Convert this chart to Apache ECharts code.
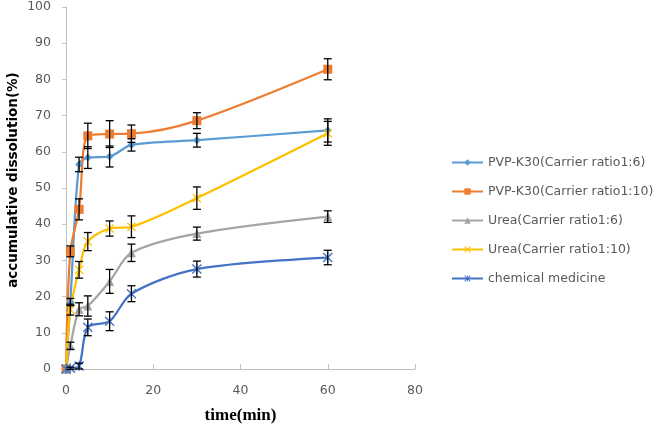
<!DOCTYPE html>
<html>
<head>
<meta charset="utf-8">
<script src="https://cdn.jsdelivr.net/npm/echarts@6/dist/echarts.min.js"></script>
<style>html,body{margin:0;padding:0;background:#fff;}#c{width:658px;height:430px;}</style>
</head>
<body>
<div id="c"></div>
<script>
const times = [0, 1, 3, 5, 10, 15, 30, 60];
const seriesNames = ['PVP-K30(Carrier ratio1:6)', 'PVP-K30(Carrier ratio1:10)', 'Urea(Carrier ratio1:6)', 'Urea(Carrier ratio1:10)', 'chemical medicine'];
const pvp16 = [0, 18.5, 56.5, 58.4, 58.7, 61.9, 63.2, 65.9];
const pvp16Err = [0, 1.0, 2.0, 3.0, 2.9, 1.7, 1.9, 3.2];
const pvp110 = [0, 32.5, 44.1, 64.4, 64.9, 65.0, 68.6, 82.8];
const pvp110Err = [0, 1.5, 2.9, 3.5, 3.7, 2.4, 2.2, 2.9];
const urea16 = [0, 6.4, 16.5, 17.4, 24.2, 32.1, 37.4, 42.1];
const urea16Err = [0, 1.0, 1.8, 2.8, 3.3, 2.4, 1.8, 1.6];
const urea110 = [0, 16.4, 27.4, 35.2, 38.8, 39.3, 47.2, 65.1];
const urea110Err = [0, 1.5, 2.3, 2.5, 2.1, 3.0, 3.1, 3.3];
const chem = [0, 0.2, 0.8, 11.5, 13.2, 20.8, 27.6, 30.8];
const chemErr = [0, 0.3, 0.8, 2.3, 2.6, 2.2, 2.2, 2.0];
const xTicks = [0, 20, 40, 60, 80];
const yTicks = [0, 10, 20, 30, 40, 50, 60, 70, 80, 90, 100];

const values = [pvp16, pvp110, urea16, urea110, chem];
const errs = [pvp16Err, pvp110Err, urea16Err, urea110Err, chemErr];
const colors = ['#5B9BD5', '#ED7D31', '#A5A5A5', '#FFC000', '#4472C4'];
const X_PATH = 'path://M0,1 L1,0 L5,4 L9,0 L10,1 L6,5 L10,9 L9,10 L5,6 L1,10 L0,9 L4,5 Z';
const STAR_PATH = 'path://M0,1 L1,0 L5,4 L9,0 L10,1 L6,5 L10,9 L9,10 L5,6 L1,10 L0,9 L4,5 Z M4.45,0 L5.55,0 L5.55,10 L4.45,10 Z';
const symbols = ['diamond', 'rect', 'triangle', X_PATH, STAR_PATH];
const symbolSizes = [8, 9, 9, 9, 10];

function errRender(params, api) {
  const x = api.value(0), lo = api.value(1), hi = api.value(2);
  const p1 = api.coord([x, lo]);
  const p2 = api.coord([x, hi]);
  const w = 4;
  const st = { stroke: '#000', lineWidth: 1.3 };
  return {
    type: 'group',
    children: [
      { type: 'line', shape: { x1: p1[0], y1: p1[1], x2: p2[0], y2: p2[1] }, style: st },
      { type: 'line', shape: { x1: p1[0] - w, y1: p1[1], x2: p1[0] + w, y2: p1[1] }, style: st },
      { type: 'line', shape: { x1: p2[0] - w, y1: p2[1], x2: p2[0] + w, y2: p2[1] }, style: st }
    ]
  };
}

const series = [];
values.forEach((v, i) => {
  series.push({
    name: seriesNames[i],
    type: 'line',
    smooth: 0.3,
    data: times.map((t, j) => [t, v[j]]),
    symbol: symbols[i],
    symbolSize: symbolSizes[i],
    showAllSymbol: true,
    lineStyle: { color: colors[i], width: 2.25 },
    itemStyle: { color: colors[i] },
    z: 3
  });
});
values.forEach((v, i) => {
  series.push({
    type: 'custom',
    renderItem: errRender,
    data: times.map((t, j) => [t, v[j] - errs[i][j], v[j] + errs[i][j]]).filter((d, j) => errs[i][j] > 0),
    encode: { x: 0, y: [1, 2] },
    z: 4,
    silent: true
  });
});

const chart = echarts.init(document.getElementById('c'), null, { renderer: 'canvas' });
chart.setOption({
  animation: false,
  backgroundColor: '#fff',
  grid: { left: 66, top: 7, width: 349, bottom: 61, containLabel: false, outerBoundsMode: 'none' },
  xAxis: {
    type: 'value', min: xTicks[0], max: xTicks[xTicks.length - 1], interval: 20,
    splitLine: { show: false },
    axisLine: { lineStyle: { color: '#BFBFBF', width: 1 } },
    axisTick: { inside: true, length: 5, lineStyle: { color: '#BFBFBF' } },
    axisLabel: { color: '#595959', fontFamily: 'DejaVu Sans', fontSize: 12.5, margin: 15 },
    name: 'time(min)', nameLocation: 'middle', nameGap: 38,
    nameTextStyle: { fontFamily: 'Liberation Serif', fontWeight: 'bold', fontSize: 17, color: '#000' }
  },
  yAxis: {
    type: 'value', min: yTicks[0], max: yTicks[yTicks.length - 1], interval: 10,
    splitLine: { show: false },
    axisLine: { show: true, lineStyle: { color: '#BFBFBF', width: 1 } },
    axisTick: { show: true, length: 4, lineStyle: { color: '#BFBFBF' } },
    axisLabel: { color: '#595959', fontFamily: 'DejaVu Sans', fontSize: 12.5, margin: 15 }
  },
  legend: {
    orient: 'vertical', left: 446, top: 151,
    data: seriesNames,
    itemWidth: 31, itemHeight: 8, itemGap: 16,
    textStyle: { color: '#595959', fontFamily: 'DejaVu Sans', fontSize: 12.5, lineHeight: 13 }
  },
  graphic: [{
    type: 'text', x: 13, y: 180, rotation: Math.PI / 2,
    style: { text: 'accumulative dissolution(%)', fontFamily: 'DejaVu Sans', fontWeight: 'bold', fontSize: 13.5, fill: '#000', textAlign: 'center', textVerticalAlign: 'middle' }
  }],
  series: series
});
</script>
</body>
</html>
